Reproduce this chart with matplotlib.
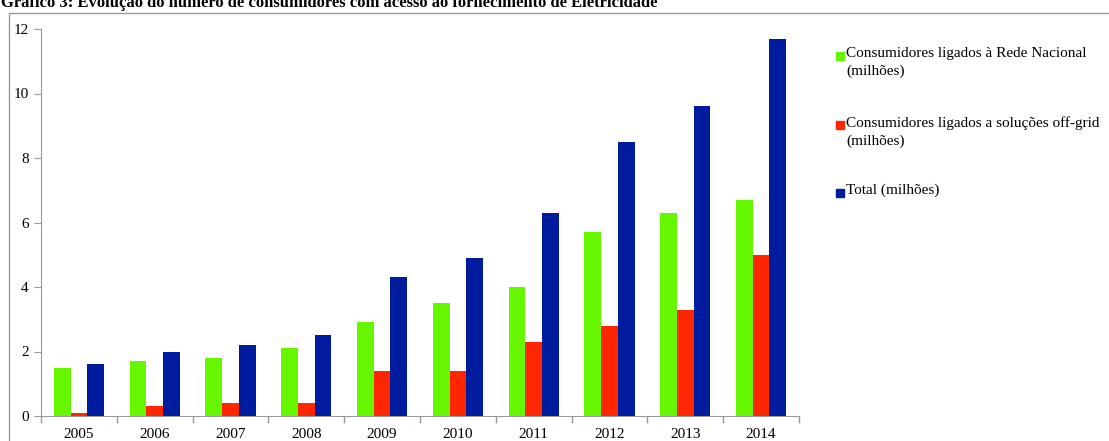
import numpy as np
import matplotlib.pyplot as plt
from matplotlib.patches import Rectangle

plt.rcParams['font.family'] = ['Liberation Serif', 'DejaVu Serif']

years = ['2005', '2006', '2007', '2008', '2009', '2010', '2011', '2012', '2013', '2014']
rede_nacional = [1.5, 1.7, 1.8, 2.1, 2.9, 3.5, 4.0, 5.7, 6.3, 6.7]
off_grid = [0.1, 0.3, 0.4, 0.4, 1.4, 1.4, 2.3, 2.8, 3.3, 5.0]
total = [1.6, 2.0, 2.2, 2.5, 4.3, 4.9, 6.3, 8.5, 9.6, 11.7]

labels = ['Consumidores ligados à Rede Nacional\n(milhões)',
          'Consumidores ligados a soluções off-grid\n(milhões)',
          'Total (milhões)']
colors = ['#66f700', '#ff2600', '#001c9e']
title = 'Gráfico 3: Evolução do número de consumidores com acesso ao fornecimento de Eletricidade'

fig = plt.figure(figsize=(11.09, 4.41), dpi=100)
ax = fig.add_axes([41 / 1109, 1 - 416 / 441, (799 - 41) / 1109, (416 - 29) / 441])

x = np.arange(len(years))
w = 0.22
for i, vals in enumerate([rede_nacional, off_grid, total]):
    ax.bar(x + (i - 1) * w, vals, width=w, color=colors[i], zorder=2)

ax.set_xlim(-0.5, len(years) - 0.5)
ax.set_ylim(0, 12)
ax.set_yticks(range(0, 13, 2))
ax.set_xticks(x)
ax.set_xticklabels(years)
ax.set_xticks(np.arange(-0.5, len(years)), minor=True)
ax.tick_params(axis='x', which='major', length=0, pad=9, labelsize=11)
ax.tick_params(axis='x', which='minor', length=5, color='#999999', width=1)
ax.tick_params(axis='y', length=5, color='#999999', labelsize=11, pad=4)
for s in ['top', 'right']:
    ax.spines[s].set_visible(False)
for s in ['left', 'bottom']:
    ax.spines[s].set_color('#999999')

# legend drawn by hand so the swatch lines up with the first text line
leg_y = [1 - 56 / 441, 1 - 125 / 441, 1 - 193 / 441]
for lab, c, y in zip(labels, colors, leg_y):
    fig.patches.append(Rectangle((836 / 1109, y - 4 / 441), 8 / 1109, 8 / 441,
                                 transform=fig.transFigure, color=c))
    fig.text(846 / 1109, y + 9 / 441, lab, fontsize=11, va='top', ha='left',
             linespacing=1.45)

# outer frame
fig.patches.append(Rectangle((9 / 1109, -0.1), 1.2, 1 - 13 / 441 + 0.1,
                             transform=fig.transFigure, fill=False,
                             edgecolor='#999999', lw=1))
fig.text(0.001, 1 - 7 / 441, title, fontsize=12, fontweight='bold',
         va='baseline', ha='left')

fig.savefig('out.png', dpi=100)
